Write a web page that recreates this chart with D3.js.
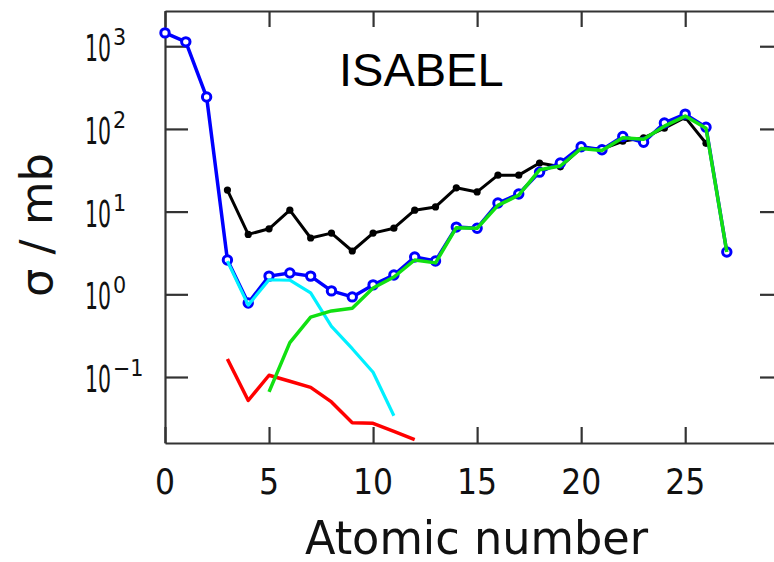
<!DOCTYPE html>
<html>
<head>
<meta charset="utf-8">
<title>ISABEL</title>
<script src="https://cdn.jsdelivr.net/npm/d3@7"></script>
<style>
  body { margin: 0; background: #fff; overflow: hidden; }
  .tick-label { font-family: "DejaVu Sans Condensed", "DejaVu Sans", sans-serif; font-stretch: condensed; fill: #111; }
</style>
</head>
<body>
<div id="container"></div>
<script>
// cross sections in mb
var zBlue = d3.range(0, 28);
var sigmaBlue = [1450, 1130, 243, 2.6, 0.785, 1.66, 1.81, 1.66, 1.1, 0.93, 1.3, 1.71, 2.83, 2.53,
                 6.5, 6.3, 12.7, 16.3, 30, 38.8, 61, 56, 81, 69, 118, 151, 105, 3.25];
var zBlack = d3.range(3, 27);
var sigmaBlack = [18.2, 5.3, 6.2, 10.4, 4.8, 5.5, 3.34, 5.5, 6.3, 10.4, 11.4, 19.4, 17.3, 27.6,
                  27.6, 38.7, 34.8, 59, 57, 71, 78, 102, 138, 67];
var zGreen = d3.range(5, 28);
var sigmaGreen = [0.066, 0.26, 0.53, 0.63, 0.68, 1.19, 1.62, 2.6, 2.4, 6.4, 6.3, 11.9, 15.8, 32,
                  35.6, 58, 55, 78, 75, 108, 143, 102, 3.25];
var zCyan = d3.range(3, 12);
var sigmaCyan = [2.52, 0.74, 1.5, 1.48, 1.04, 0.41, 0.22, 0.114, 0.034];
var zRed = d3.range(3, 13);
var sigmaRed = [0.165, 0.052, 0.105, 0.089, 0.075, 0.05, 0.028, 0.0275, 0.022, 0.0175];

var xTicks = [0, 5, 10, 15, 20, 25];
var yExponents = [3, 2, 1, 0, -1];

var width = 774, height = 562;
var plotLeft = 165, plotRight = 783, plotTop = 11, plotBottom = 443;

var svg = d3.select("#container").append("svg")
    .attr("width", width).attr("height", height);

var x = d3.scaleLinear().domain([0, 29.7]).range([plotLeft, plotRight]);
var y = d3.scaleLog().domain([Math.pow(10, -1.798), Math.pow(10, 3.426)]).range([plotBottom, plotTop]);
var yTickValues = yExponents.map(function (e) { return Math.pow(10, e); });

function frameAxis(axis, tx, ty) {
    var g = svg.append("g").attr("transform", "translate(" + tx + "," + ty + ")").call(axis);
    g.selectAll("path,line").attr("stroke", "#333").attr("stroke-width", 2.2);
    g.selectAll("text").remove();
    return g;
}

frameAxis(d3.axisBottom(x).tickValues(xTicks).tickSizeInner(-16).tickSizeOuter(0), 0, plotBottom);
frameAxis(d3.axisTop(x).tickValues(xTicks).tickSizeInner(-16).tickSizeOuter(0), 0, plotTop);
frameAxis(d3.axisLeft(y).tickValues(yTickValues).tickSizeInner(-23).tickSizeOuter(0), plotLeft, 0);
frameAxis(d3.axisRight(y).tickValues(yTickValues).tickSizeInner(-23).tickSizeOuter(0), plotRight, 0);

// x tick labels
svg.append("g").selectAll("text").data(xTicks).join("text")
    .attr("class", "tick-label")
    .attr("x", function (d) { return x(d); })
    .attr("y", 494)
    .attr("text-anchor", "middle")
    .attr("font-size", 35)
    .text(function (d) { return d; });

// y tick labels 10^n
var yl = svg.append("g").selectAll("g").data(yExponents).join("g");
yl.append("text")
    .attr("class", "tick-label")
    .attr("x", 85)
    .attr("y", function (d) { return y(Math.pow(10, d)) + 15; })
    .attr("font-size", 38)
    .attr("textLength", 26)
    .attr("lengthAdjust", "spacingAndGlyphs")
    .text("10");
yl.append("text")
    .attr("class", "tick-label")
    .attr("x", 113)
    .attr("y", function (d) { return y(Math.pow(10, d)) - 1; })
    .attr("font-size", 23)
    .text(function (d) { return d < 0 ? "\u2212" + (-d) : d; });

// axis titles
svg.append("text")
    .attr("class", "tick-label")
    .attr("x", 305).attr("y", 554)
    .attr("font-size", 47)
    .attr("textLength", 343)
    .attr("lengthAdjust", "spacingAndGlyphs")
    .text("Atomic number");

svg.append("text")
    .attr("class", "tick-label")
    .attr("transform", "translate(52,297) rotate(-90)")
    .attr("font-size", 44)
    .attr("textLength", 144)
    .attr("lengthAdjust", "spacingAndGlyphs")
    .text("\u03c3 / mb");

svg.append("text")
    .attr("x", 339).attr("y", 86)
    .attr("font-family", "'Liberation Sans', Arial, sans-serif")
    .attr("font-size", 47)
    .attr("fill", "#000")
    .text("ISABEL");

// series
var line = d3.line()
    .x(function (d) { return x(d[0]); })
    .y(function (d) { return y(d[1]); });

function series(zs, vals, color, w) {
    var pts = d3.zip(zs, vals);
    svg.append("path").datum(pts)
        .attr("d", line)
        .attr("fill", "none")
        .attr("stroke", color)
        .attr("stroke-width", w)
        .attr("stroke-linejoin", "round");
    return pts;
}

var blackPts = series(zBlack, sigmaBlack, "#000", 3);
svg.append("g").selectAll("circle").data(blackPts).join("circle")
    .attr("cx", function (d) { return x(d[0]); })
    .attr("cy", function (d) { return y(d[1]); })
    .attr("r", 3.6).attr("fill", "#000");

var bluePts = series(zBlue, sigmaBlue, "#0000ff", 3.5);
svg.append("g").selectAll("circle").data(bluePts).join("circle")
    .attr("cx", function (d) { return x(d[0]); })
    .attr("cy", function (d) { return y(d[1]); })
    .attr("r", 4.2).attr("fill", "#fff")
    .attr("stroke", "#0000ff").attr("stroke-width", 3);

series(zCyan, sigmaCyan, "#00f0ff", 3.2);
series(zRed, sigmaRed, "#ff0000", 3.5);
series(zGreen, sigmaGreen, "#11e011", 3.5);
</script>
</body>
</html>
